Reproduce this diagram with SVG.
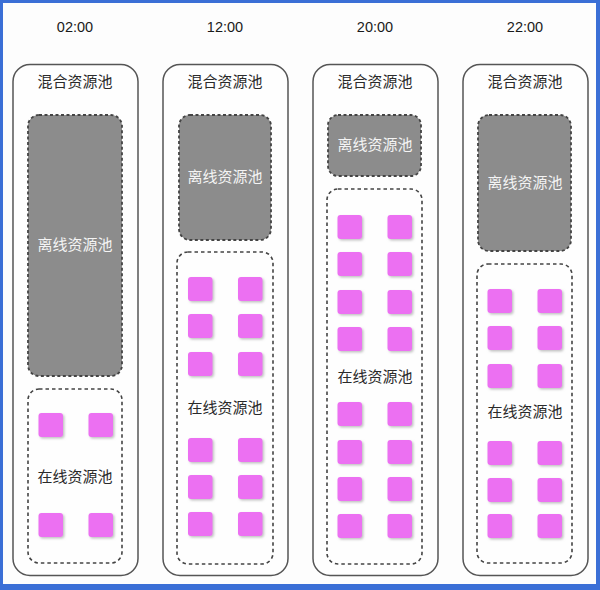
<svg xmlns="http://www.w3.org/2000/svg" width="600" height="590" viewBox="0 0 600 590">
<style>
.frame{fill:#3b6fd6}
.bg{fill:#fdfdfd}
.outer{fill:#fefefe;stroke:#555;stroke-width:1.5}
.off{fill:#8c8c8c;stroke:#444;stroke-width:1.8;stroke-dasharray:3 2.5}
.on{fill:#fefefe;stroke:#444;stroke-width:1.6;stroke-dasharray:3.5 3}
.sq{fill:#ec6ff2;filter:url(#sh)}
.t{font-family:"Liberation Sans","Noto Sans CJK SC",sans-serif;font-size:14.5px;fill:#1a1a1a;text-anchor:middle}
.c{font-family:"Noto Sans CJK SC",sans-serif;font-size:15px;fill:#2a2a2a;text-anchor:middle}
.w{fill:#f4f4f4}
</style>
<defs>
<filter id="sh" x="-20%" y="-20%" width="160%" height="160%">
<feDropShadow dx="1.5" dy="1.5" stdDeviation="0.8" flood-color="#999" flood-opacity="0.6"/>
</filter>
<g id="sqp">
<rect class="sq" x="0" y="0" width="24.5" height="24" rx="3"/>
<rect class="sq" x="50" y="0" width="24.5" height="24" rx="3"/>
</g>
</defs>
<rect class="frame" x="0" y="0" width="600" height="590"/>
<rect class="bg" x="3" y="3" width="593" height="581"/>

<text class="t" x="75" y="32">02:00</text>
<text class="t" x="225" y="32">12:00</text>
<text class="t" x="375" y="32">20:00</text>
<text class="t" x="525" y="32">22:00</text>

<g id="col1">
<rect class="outer" x="13" y="64.5" width="125" height="511" rx="17"/>
<text class="c" x="75" y="87">混合资源池</text>
<g id="off1"><rect class="off" x="28" y="115" width="94" height="261" rx="11"/>
<text class="c w" x="75" y="250">离线资源池</text></g>
<g id="on1"><rect class="on" x="28" y="389" width="94" height="174" rx="11"/>
<use href="#sqp" x="38.5" y="413"/>
<use href="#sqp" x="38.5" y="513"/>
<text class="c" x="75" y="482">在线资源池</text></g>
</g>

<g id="col2">
<rect class="outer" x="163" y="64.5" width="125" height="511" rx="17"/>
<text class="c" x="225" y="87">混合资源池</text>
<g id="off2"><rect class="off" x="179" y="115" width="92" height="125" rx="11"/>
<text class="c w" x="225" y="182">离线资源池</text></g>
<g id="on2"><rect class="on" x="177" y="252" width="96" height="312" rx="11"/>
<use href="#sqp" x="188" y="277"/>
<use href="#sqp" x="188" y="314"/>
<use href="#sqp" x="188" y="352"/>
<text class="c" x="225" y="413">在线资源池</text>
<use href="#sqp" x="188" y="438"/>
<use href="#sqp" x="188" y="475"/>
<use href="#sqp" x="188" y="512"/>
</g>
</g>

<g id="col3">
<rect class="outer" x="313" y="64.5" width="125" height="511" rx="17"/>
<text class="c" x="375" y="87">混合资源池</text>
<g id="off3"><rect class="off" x="328" y="115" width="93" height="61" rx="10"/>
<text class="c w" x="375" y="150">离线资源池</text></g>
<g id="on3"><rect class="on" x="327" y="189" width="95" height="375" rx="11"/>
<use href="#sqp" x="337.5" y="215"/>
<use href="#sqp" x="337.5" y="252"/>
<use href="#sqp" x="337.5" y="290"/>
<use href="#sqp" x="337.5" y="327"/>
<text class="c" x="375" y="382">在线资源池</text>
<use href="#sqp" x="337.5" y="402"/>
<use href="#sqp" x="337.5" y="440"/>
<use href="#sqp" x="337.5" y="477"/>
<use href="#sqp" x="337.5" y="514"/>
</g>
</g>

<g id="col4">
<rect class="outer" x="463" y="64.5" width="125" height="511" rx="17"/>
<text class="c" x="525" y="87">混合资源池</text>
<g id="off4"><rect class="off" x="478" y="115" width="93" height="136" rx="11"/>
<text class="c w" x="525" y="188">离线资源池</text></g>
<g id="on4"><rect class="on" x="477" y="264" width="95" height="299" rx="11"/>
<use href="#sqp" x="487.5" y="289"/>
<use href="#sqp" x="487.5" y="326"/>
<use href="#sqp" x="487.5" y="364"/>
<text class="c" x="525" y="417">在线资源池</text>
<use href="#sqp" x="487.5" y="441"/>
<use href="#sqp" x="487.5" y="478"/>
<use href="#sqp" x="487.5" y="514"/>
</g>
</g>
</svg>
